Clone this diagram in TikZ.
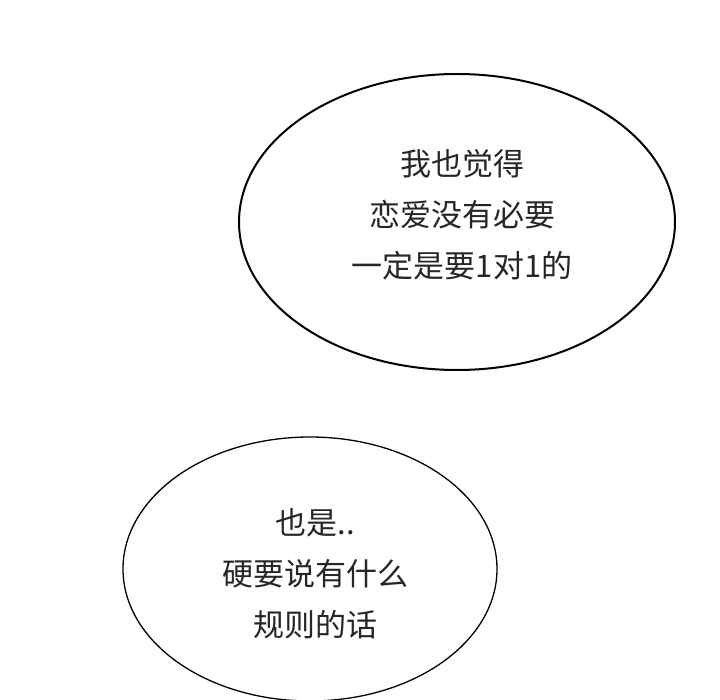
\documentclass[tikz,border=0pt]{standalone}
\usepackage{fontspec}
\newfontfamily\cjk{Noto Sans CJK SC}
\begin{document}
\begin{tikzpicture}[x=1pt,y=-1pt]
\tikzset{bubble/.style={draw=black,fill=white},txt/.style={font=\cjk\fontsize{31}{51}\selectfont,align=center,text=black!85}}
\useasboundingbox (0,0) rectangle (720,700);
\fill[white] (0,0) rectangle (720,700);
\begin{scope}
\clip (0,0) rectangle (720,700);
\draw[bubble,line width=2pt] (457,222) ellipse [x radius=218, y radius=148];
\draw[bubble,line width=1.3pt] (310,569) ellipse [x radius=187, y radius=132];
\end{scope}
\node[txt] (t1) at (462,215) {我也觉得\\恋爱没有必要\\一定是要1对1的};
\node[txt] (t2) at (315,574) {也是..\\硬要说有什么\\规则的话};
\end{tikzpicture}
\end{document}
